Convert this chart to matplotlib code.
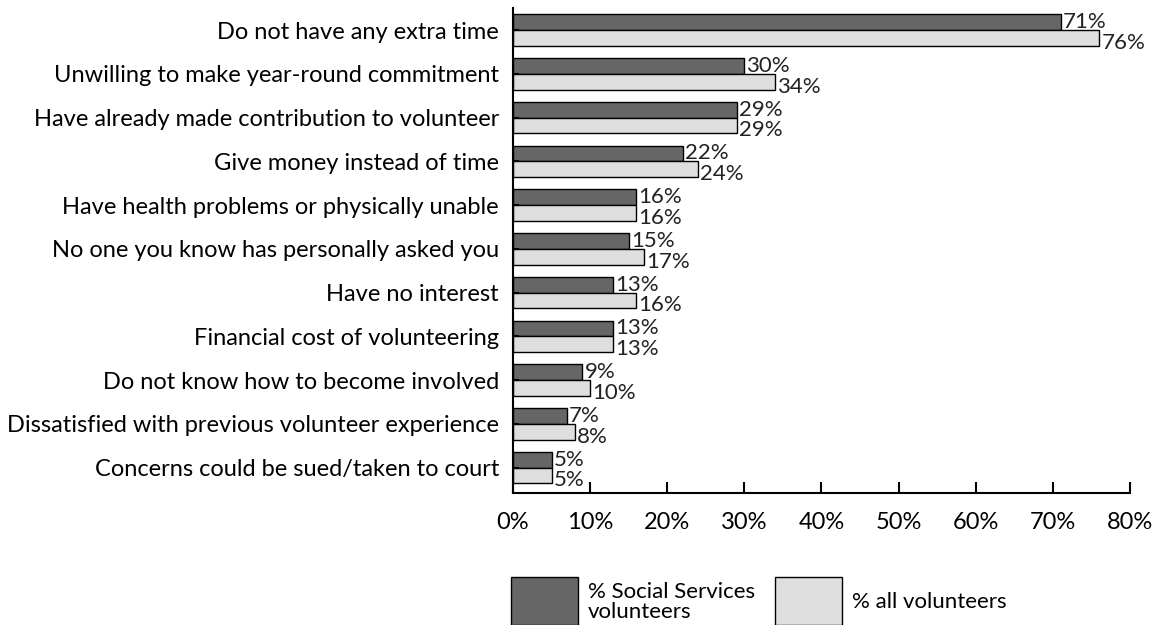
import matplotlib
matplotlib.use("Agg")
import matplotlib.pyplot as plt
from matplotlib.patches import Rectangle
import numpy as np

categories = [
    "Do not have any extra time",
    "Unwilling to make year-round commitment",
    "Have already made contribution to volunteer",
    "Give money instead of time",
    "Have health problems or physically unable",
    "No one you know has personally asked you",
    "Have no interest",
    "Financial cost of volunteering",
    "Do not know how to become involved",
    "Dissatisfied with previous volunteer experience",
    "Concerns could be sued/taken to court",
]
social_services = [71, 30, 29, 22, 16, 15, 13, 13, 9, 7, 5]
all_volunteers = [76, 34, 29, 24, 16, 17, 16, 13, 10, 8, 5]
series_names = ["% Social Services\nvolunteers", "% all volunteers"]
x_ticks = [0, 10, 20, 30, 40, 50, 60, 70, 80]

DARK = "#666666"
LIGHT = "#dedede"
FONT = "Lato"
FS = 17
VFS = 16

fig = plt.figure(figsize=(11.59, 6.25), dpi=100)
ax = fig.add_axes([0.4426, 0.2112, 0.975 - 0.4426, 0.987 - 0.2112])

y = np.arange(len(categories))
h = 0.36
ax.barh(y - h / 2, social_services, height=h, color=DARK, edgecolor="black", linewidth=1)
ax.barh(y + h / 2, all_volunteers, height=h, color=LIGHT, edgecolor="black", linewidth=1)

for yi, v in zip(y, social_services):
    ax.annotate(f"{v}%", (v, yi - h / 2), xytext=(1.5, 0), textcoords="offset points",
                ha="left", va="center", fontsize=VFS, family=FONT, color="#222222")
for yi, v in zip(y, all_volunteers):
    ax.annotate(f"{v}%", (v, yi + h / 2), xytext=(1.5, -3.5), textcoords="offset points",
                ha="left", va="center", fontsize=VFS, family=FONT, color="#222222")

ax.set_xlim(0, 80)
ax.set_ylim(len(categories) - 0.42, -0.5)
ax.set_xticks(x_ticks)
ax.set_xticklabels([f"{t}%" for t in x_ticks], fontsize=FS, family=FONT)
ax.set_yticks(y)
ax.set_yticklabels(categories, fontsize=FS, family=FONT)
ax.tick_params(axis="x", direction="in", length=8, width=1.5, pad=14)
ax.tick_params(axis="y", direction="in", length=4, width=1.5, pad=10)
for s in ("top", "right"):
    ax.spines[s].set_visible(False)
for s in ("left", "bottom"):
    ax.spines[s].set_linewidth(1.5)

# legend drawn as boxes with captions below the axis
W, H = 1159, 625
for (x0, col, name) in [(511, DARK, series_names[0]), (775, LIGHT, series_names[1])]:
    fig.patches.append(Rectangle((x0 / W, (H - 625) / H), 67 / W, 48 / H,
                                 transform=fig.transFigure, facecolor=col,
                                 edgecolor="black", linewidth=1))
    fig.text((x0 + 77) / W, (H - 602) / H, name, fontsize=16, family=FONT,
             ha="left", va="center", linespacing=0.95)

fig.savefig("out.png", dpi=100)
